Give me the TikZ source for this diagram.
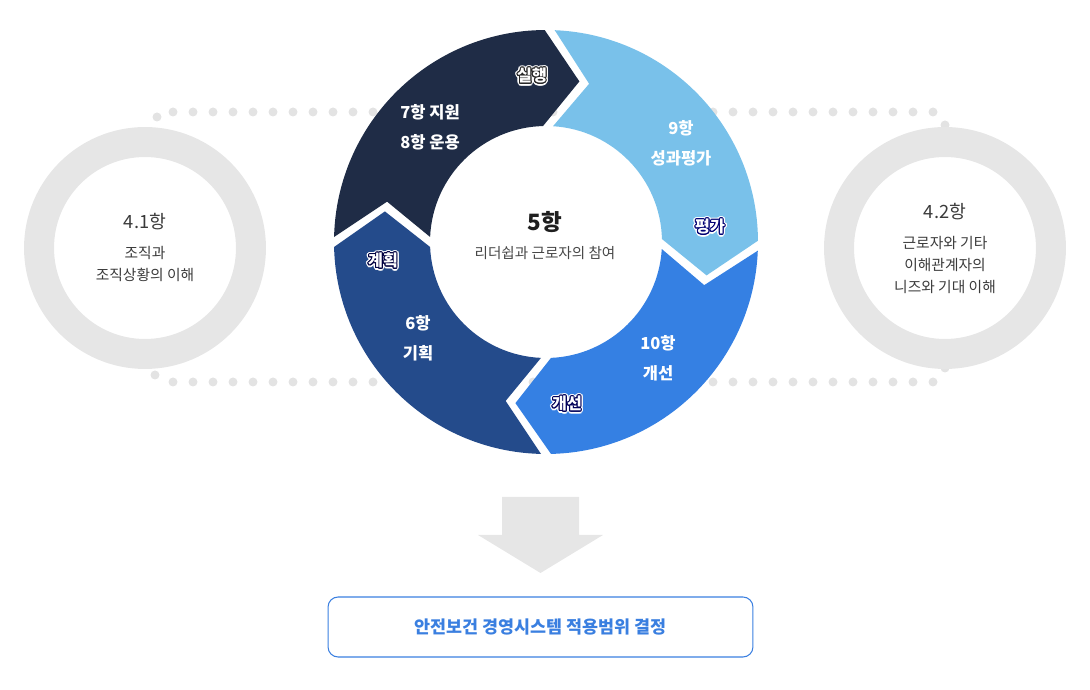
\documentclass[tikz,border=0pt]{standalone}
\usepackage{fontspec}
\setmainfont{Noto Sans CJK KR}
\usepackage[copies]{contour}
\usetikzlibrary{positioning}
\definecolor{doNavy}{HTML}{1F2C46}
\definecolor{planBlue}{HTML}{244B8B}
\definecolor{checkSky}{HTML}{79C1EA}
\definecolor{actBlue}{HTML}{3580E3}
\definecolor{ringGray}{HTML}{E6E6E6}
\definecolor{dotGray}{HTML}{E3E3E3}
\definecolor{boxBlue}{HTML}{3A7FE0}
\definecolor{inkGray}{HTML}{3A3A3A}

\newcommand\ringpart[3]{%
  \fill[#1] ({#2-1.35}:212) arc[start angle={#2-1.35}, end angle={#3+1.35}, radius=212]
    -- ({#3-12.5+1.75}:164) -- ({#3+2.47}:116)
    arc[start angle={#3+2.47}, end angle={#2-2.47}, radius=116]
    -- ({#2-12.5-1.75}:164) -- cycle;}
\newcommand\taglabel[2]{\rlap{\contourlength{1.4pt}\contour{white}{#2}}\contourlength{0.6pt}\contour{#1}{#2}}

\begin{document}
\begin{tikzpicture}[x=0.02cm,y=0.02cm,
    seglbl/.style={text=white,font=\bfseries\fontsize{9.4}{17}\selectfont,align=center},
    taglbl/.style={text=white,font=\bfseries\fontsize{9.2}{11}\selectfont},
    ctxring/.style={circle,draw=ringGray,line width=0.6cm,minimum size=4.24cm,inner sep=0pt},
    ctxhead/.style={text=inkGray,font=\fontsize{10.4}{12}\selectfont},
    ctxlbl/.style={text=inkGray,font=\fontsize{8.4}{12.5}\selectfont,align=center}]
	\useasboundingbox (0,0) rectangle (1090,690);
	\coordinate (ring) at (546,448);

	\foreach \x in {173,193,...,933} {
		\fill[dotGray] (\x,578) circle[radius=4.5];
		\fill[dotGray] (\x,308) circle[radius=4.5];
	}
	\foreach \p in {(157,573),(155,315),(945,565),(945,322)}
		\fill[dotGray] \p circle[radius=4.5];

	\node[ctxring] (ctxL) at (145,442) {};
	\node[ctxring] (ctxR) at (945,442) {};

	\begin{scope}[shift={(ring)}]
		\ringpart{doNavy}{180}{89}
		\ringpart{checkSky}{89}{-1}
		\ringpart{actBlue}{-1}{-90}
		\ringpart{planBlue}{270}{180}
	\end{scope}

	\node[font=\bfseries\fontsize{12.8}{14}\selectfont,text=black!88] (core) at (545,468) {5항};
	\node[font=\fontsize{8.3}{10}\selectfont,text=black!72] (coresub) at (545,437) {리더쉽과 근로자의 참여};

	\node[seglbl] (doTxt) at (430,563) {7항 지원\\8항 운용};
	\node[seglbl] (checkTxt) at (681,547) {9항\\성과평가};
	\node[seglbl] (actTxt) at (658,332) {10항\\개선};
	\node[seglbl] (planTxt) at (418,352) {6항\\기획};

	\node[taglbl] (doTag) at (532,613) {\taglabel{black!85}{실행}};
	\node[taglbl] (checkTag) at (710,462) {\taglabel{blue!45!black}{평가}};
	\node[taglbl] (actTag) at (567,285) {\taglabel{blue!35!black}{개선}};
	\node[taglbl] (planTag) at (383,428) {\taglabel{blue!25!black}{계획}};

	\node[ctxhead] (ctxLhead) at (145,468) {4.1항};
	\node[ctxlbl] (ctxLtxt) at (145,426) {조직과\\조직상황의 이해};
	\node[ctxhead] (ctxRhead) at (945,478) {4.2항};
	\node[ctxlbl] (ctxRtxt) at (945,425) {근로자와 기타\\이해관계자의\\니즈와 기대 이해};

	\fill[ringGray] (502,193) -- (579,193) -- (579,155) -- (603,155) -- (540.5,117)
		-- (478,155) -- (502,155) -- cycle;
	\node[draw=boxBlue,line width=0.6pt,rounded corners=0.2cm,minimum width=8.5cm,minimum height=1.2cm,
		text=boxBlue,font=\bfseries\fontsize{9.9}{11}\selectfont] (result) at (540.5,63)
		{안전보건 경영시스템 적용범위 결정};
\end{tikzpicture}
\end{document}
